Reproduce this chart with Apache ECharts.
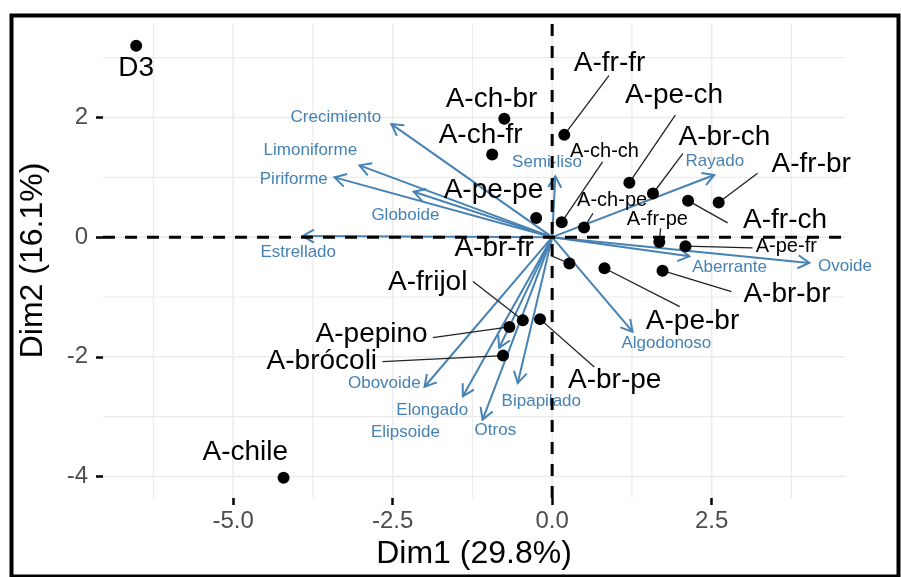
<!DOCTYPE html>
<html>
<head>
<meta charset="utf-8">
<script src="https://cdn.jsdelivr.net/npm/echarts@6/dist/echarts.min.js"></script>
<style>
html, body { margin: 0; padding: 0; background: #ffffff; }
#chart { width: 901px; height: 577px; }
</style>
</head>
<body>
<div id="chart"></div>
<script>
// Axis ticks and grid lines
const dim1Ticks = [-5, -2.5, 0, 2.5];
const dim2Ticks = [-4, -2, 0, 2];
const dim1MinorGrid = [-6.25, -3.75, -1.25, 1.25, 3.75];
const dim2MinorGrid = [-3, -1, 1, 3];

// Individuals (PCA scores on Dim1 / Dim2)
const indNames = ['D3', 'A-chile', 'A-ch-br', 'A-ch-fr', 'A-fr-fr', 'A-pe-ch', 'A-br-ch', 'A-fr-ch', 'A-fr-br',
  'A-pe-pe', 'A-ch-ch', 'A-ch-pe', 'A-fr-pe', 'A-pe-fr', 'A-br-fr', 'A-pe-br', 'A-br-br',
  'A-frijol', 'A-br-pe', 'A-pepino', 'A-brócoli'];
const indDim1 = [-6.52, -4.21, -0.75, -0.94, 0.19, 1.21, 1.58, 2.13, 2.61,
  -0.25, 0.15, 0.50, 1.68, 2.09, 0.27, 0.82, 1.73,
  -0.46, -0.19, -0.67, -0.77];
const indDim2 = [3.20, -4.02, 1.98, 1.38, 1.71, 0.91, 0.73, 0.61, 0.58,
  0.32, 0.25, 0.16, -0.08, -0.15, -0.44, -0.52, -0.56,
  -1.39, -1.37, -1.50, -1.98];

// Repelled label placement for individuals (data units) and leader-line starts
const indLabelDim1 = [-6.52, -4.81, -0.95, -1.12, 0.90, 1.91, 2.70, 3.65, 4.06,
  -0.92, 0.82, 0.94, 1.65, 3.67, -0.91, 2.20, 3.68,
  -1.95, 0.98, -2.83, -3.61];
const indLabelDim2 = [2.83, -3.59, 2.31, 1.71, 2.91, 2.38, 1.67, 0.29, 1.22,
  0.79, 1.44, 0.62, 0.29, -0.16, -0.18, -1.41, -0.95,
  -0.76, -2.39, -1.63, -2.07];
const indLeaderStart = [null, null, null, null, [0.89, 2.70], [1.93, 2.04], [2.05, 1.40], [2.75, 0.24], [3.22, 1.07],
  null, [0.79, 1.26], [0.64, 0.40], [1.70, 0.15], [3.14, -0.18], [-0.02, -0.31], [2.00, -1.16], [2.81, -0.91],
  [-1.24, -0.74], [0.66, -2.17], [-1.87, -1.68], [-2.66, -2.08]];
const smallLabels = new Set(['A-ch-ch', 'A-ch-pe', 'A-fr-pe', 'A-pe-fr']);

// Variables (loadings, scaled)
const varNames = ['Crecimiento', 'Limoniforme', 'Piriforme', 'Globoide', 'Estrellado', 'Semi-liso', 'Rayado',
  'Aberrante', 'Ovoide', 'Algodonoso', 'Bipapilado', 'Otros', 'Elongado', 'Elipsoide', 'Obovoide'];
const varDim1 = [-2.52, -3.02, -3.41, -2.17, -3.91, 0.05, 2.54, 2.15, 4.03, 1.26, -0.54, -1.09, -1.40, -0.83, -2.00];
const varDim2 = [1.89, 1.20, 1.00, 0.76, 0.02, 1.02, 1.04, -0.32, -0.43, -1.58, -2.44, -3.05, -2.66, -1.85, -2.50];
const varLabelDim1 = [-3.39, -3.79, -4.05, -2.30, -3.98, -0.08, 2.55, 2.78, 4.59, 1.79, -0.17, -0.89, -1.88, -2.30, -2.63];
const varLabelDim2 = [2.01, 1.46, 0.97, 0.36, -0.26, 1.25, 1.26, -0.50, -0.48, -1.78, -2.75, -3.23, -2.90, -3.27, -2.44];

const FONT = '"Liberation Sans", Arial, Helvetica, sans-serif';
const BLUE = '#4682B4';

const chart = echarts.init(document.getElementById('chart'), null, { renderer: 'canvas' });

function gridLineItem(params, api) {
  const cs = params.coordSys;
  const dir = api.value(0);
  const v = api.value(1);
  if (dir === 0) {
    const p = api.coord([v, 0]);
    return { type: 'line', shape: { x1: p[0], y1: cs.y, x2: p[0], y2: cs.y + cs.height },
      style: { stroke: '#ebebeb', lineWidth: api.value(2) } };
  }
  const p = api.coord([0, v]);
  return { type: 'line', shape: { x1: cs.x, y1: p[1], x2: cs.x + cs.width, y2: p[1] },
    style: { stroke: '#ebebeb', lineWidth: api.value(2) } };
}

const gridData = [];
dim1Ticks.forEach(v => gridData.push([0, v, 1.6]));
dim1MinorGrid.forEach(v => gridData.push([0, v, 1.2]));
dim2Ticks.forEach(v => gridData.push([1, v, 1.6]));
dim2MinorGrid.forEach(v => gridData.push([1, v, 1.2]));

function arrowItem(params, api) {
  const o = api.coord([0, 0]);
  const t = api.coord([api.value(0), api.value(1)]);
  const ang = Math.atan2(t[1] - o[1], t[0] - o[0]);
  const L = 13, a = Math.PI / 6;
  const h1 = [t[0] - L * Math.cos(ang - a), t[1] - L * Math.sin(ang - a)];
  const h2 = [t[0] - L * Math.cos(ang + a), t[1] - L * Math.sin(ang + a)];
  return {
    type: 'group',
    children: [
      { type: 'line', shape: { x1: o[0], y1: o[1], x2: t[0], y2: t[1] },
        style: { stroke: BLUE, lineWidth: 2 } },
      { type: 'polyline', shape: { points: [h1, t, h2] },
        style: { stroke: BLUE, lineWidth: 2, fill: null, lineJoin: 'miter' } }
    ]
  };
}

function leaderItem(params, api) {
  const s = api.coord([api.value(0), api.value(1)]);
  const e = api.coord([api.value(2), api.value(3)]);
  return { type: 'line', shape: { x1: s[0], y1: s[1], x2: e[0], y2: e[1] },
    style: { stroke: '#222222', lineWidth: 1.3 } };
}

function textItem(names, sizeOf, color) {
  return function (params, api) {
    const p = api.coord([api.value(0), api.value(1)]);
    const name = names[params.dataIndex];
    return {
      type: 'text',
      x: p[0], y: p[1],
      style: {
        text: name,
        font: sizeOf(name) + 'px ' + FONT,
        fill: color,
        align: 'center',
        verticalAlign: 'middle'
      }
    };
  };
}

function dashedAxesItem(params, api) {
  const cs = params.coordSys;
  const o = api.coord([0, 0]);
  return {
    type: 'group',
    children: [
      { type: 'line', shape: { x1: cs.x, y1: o[1], x2: cs.x + cs.width, y2: o[1] },
        style: { stroke: '#000000', lineWidth: 3, lineDash: [12, 10] } },
      { type: 'line', shape: { x1: o[0], y1: cs.y + cs.height, x2: o[0], y2: cs.y },
        style: { stroke: '#000000', lineWidth: 3, lineDash: [12, 10] } }
    ]
  };
}

const leaderData = [];
indLeaderStart.forEach((s, i) => {
  if (s) leaderData.push([s[0], s[1], indDim1[i], indDim2[i]]);
});

const option = {
  animation: false,
  backgroundColor: '#ffffff',
  grid: { left: 103, right: 56, top: 23, bottom: 79 },
  xAxis: {
    type: 'value', min: -7.04, max: 4.59,
    name: 'Dim1 (29.8%)', nameLocation: 'middle', nameGap: 38,
    nameTextStyle: { fontFamily: FONT, fontSize: 32, color: '#000000' },
    axisLine: { show: false, onZero: false },
    splitLine: { show: false },
    axisTick: { show: true, length: 7, customValues: dim1Ticks, lineStyle: { color: '#000000', width: 2.5 } },
    axisLabel: { customValues: dim1Ticks, margin: 11, fontFamily: FONT, fontSize: 24, color: '#4d4d4d',
      formatter: v => v.toFixed(1) }
  },
  yAxis: {
    type: 'value', min: -4.36, max: 3.58,
    name: 'Dim2 (16.1%)', nameLocation: 'middle', nameGap: 54, nameRotate: 90,
    nameTextStyle: { fontFamily: FONT, fontSize: 32, color: '#000000' },
    axisLine: { show: false, onZero: false },
    splitLine: { show: false },
    axisTick: { show: true, length: 7, customValues: dim2Ticks, lineStyle: { color: '#000000', width: 2.5 } },
    axisLabel: { customValues: dim2Ticks, margin: 15, fontFamily: FONT, fontSize: 24, color: '#4d4d4d',
      formatter: v => String(v) }
  },
  graphic: [{
    type: 'rect', left: 9, top: 13, z: 100,
    shape: { width: 887, height: 561 },
    style: { fill: null, stroke: '#000000', lineWidth: 4 }
  }],
  series: [
    { type: 'custom', name: 'grid', renderItem: gridLineItem, data: gridData, z: 0, silent: true, clip: true },
    { type: 'custom', name: 'variables', renderItem: arrowItem,
      data: varDim1.map((x, i) => [x, varDim2[i]]), z: 2, silent: true, clip: false },
    { type: 'custom', name: 'leaders', renderItem: leaderItem, data: leaderData,
      encode: { x: [0, 2], y: [1, 3] }, z: 3, silent: true, clip: false },
    { type: 'scatter', name: 'individuals', data: indDim1.map((x, i) => [x, indDim2[i]]),
      symbol: 'circle', symbolSize: 12, itemStyle: { color: '#000000', opacity: 1 }, z: 4, silent: true },
    { type: 'custom', name: 'varLabels', renderItem: textItem(varNames, () => 17, BLUE),
      data: varLabelDim1.map((x, i) => [x, varLabelDim2[i]]), z: 5, silent: true, clip: false },
    { type: 'custom', name: 'indLabels', renderItem: textItem(indNames, n => smallLabels.has(n) ? 20 : 28, '#000000'),
      data: indLabelDim1.map((x, i) => [x, indLabelDim2[i]]), z: 6, silent: true, clip: false },
    { type: 'custom', name: 'originLines', renderItem: dashedAxesItem, data: [[0, 0]], z: 7, silent: true, clip: false }
  ]
};

chart.setOption(option);
</script>
</body>
</html>
